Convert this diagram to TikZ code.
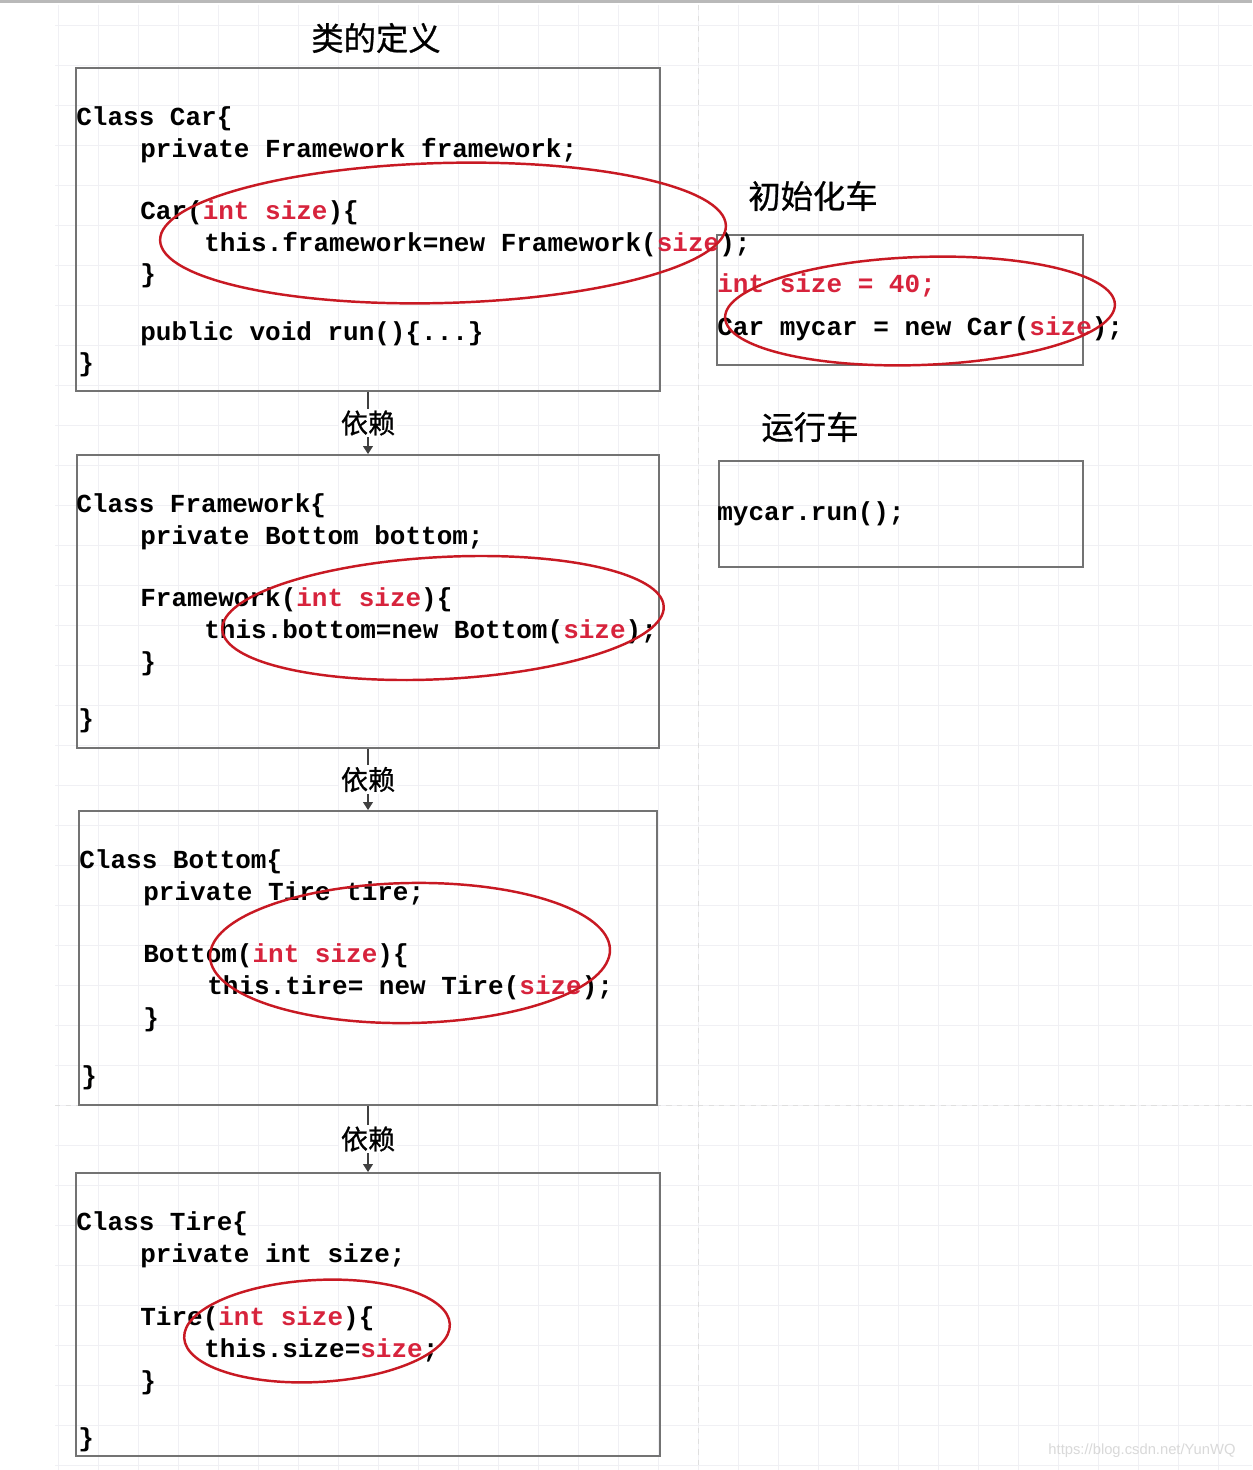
\documentclass[tikz,border=0pt]{standalone}
\usepackage{fontspec}
\setmainfont{Liberation Sans}
\setmonofont{Liberation Mono}
\newfontfamily\cjk{Noto Sans CJK SC}[FakeBold=0.8]
\usetikzlibrary{positioning,arrows.meta}
\definecolor{boxgray}{RGB}{115,115,115}
\definecolor{ringred}{RGB}{200,25,35}
\definecolor{codered}{RGB}{215,35,60}
\definecolor{gridgray}{RGB}{240,240,244}
\newcommand{\redtxt}[1]{\textcolor{codered}{#1}}
\tikzset{
  box/.style={draw=boxgray, line width=1.1pt, inner sep=0pt},
  code/.style={anchor=mid west, inner sep=0pt, yshift=-0.05cm, font=\ttfamily\bfseries\fontsize{14.8}{18}\selectfont},
  title/.style={inner sep=1pt, font=\cjk\fontsize{18.4}{22}\selectfont},
  dep/.style={draw=black!75, line width=0.8pt, -{Triangle[width=5.5pt,length=4.5pt]}},
  deplabel/.style={fill=white, inner sep=1pt, font=\cjk\fontsize{15.4}{18}\selectfont},
  ring/.style={draw=ringred, line width=1.4pt}
}

\begin{document}
\begin{tikzpicture}[x=0.02cm, y=-0.02cm]
  \useasboundingbox (0,0) rectangle (1252,1470);
  \fill[white] (0,0) rectangle (1252,1470);

  % background grid
  \foreach \gx in {58,98,...,1250}
    \draw[gridgray, line width=0.5pt] (\gx,5) -- (\gx,1470);
  \foreach \gy in {25,65,...,1465}
    \draw[gridgray, line width=0.5pt] (55,\gy) -- (1252,\gy);
  \draw[gray!25, dashed, line width=0.5pt] (698,5) -- (698,1470);
  \draw[gray!25, dashed, line width=0.5pt] (55,1105) -- (1252,1105);
  \fill[gray!55] (0,0) rectangle (1252,3);

  % titles
  \node[title] (tdef) at (376,38) {类的定义};
  \node[title] (tinit) at (813,196) {初始化车};
  \node[title] (trun) at (810,427) {运行车};

  % class boxes
  \node[box, minimum width=11.7cm, minimum height=6.46cm] (car) at (368,229.5) {};
  \node[box, minimum width=11.66cm, minimum height=5.86cm] (fw) at (368,601.5) {};
  \node[box, minimum width=11.56cm, minimum height=5.88cm] (bottom) at (368,958) {};
  \node[box, minimum width=11.7cm, minimum height=5.66cm] (tire) at (368,1314.5) {};

  % right side boxes
  \node[box, minimum width=7.32cm, minimum height=2.6cm] (init) at (900,300) {};
  \node[box, minimum width=7.28cm, minimum height=2.12cm] (run) at (901,514) {};

  % dependencies
  \draw[dep] (car.south) -- node[deplabel] (dep1) {依赖} (fw.north);
  \draw[dep] (fw.south) -- node[deplabel] (dep2) {依赖} (bottom.north);
  \draw[dep] (bottom.south) -- node[deplabel] (dep3) {依赖} (tire.north);

  % Car
  \node[code] (car1) at (76,118) {Class Car\{};
  \node[code] (car2) at (140,150) {private Framework framework;};
  \node[code] (car3) at (140,212) {Car(\redtxt{int size})\{};
  \node[code] (car4) at (204,244) {this.framework=new Framework(\redtxt{size});};
  \node[code] (car5) at (140,275) {\}};
  \node[code] (car6) at (140,333) {public void run()\{...\}};
  \node[code] (car7) at (78,364) {\}};

  % Framework
  \node[code] (fw1) at (76,505) {Class Framework\{};
  \node[code] (fw2) at (140,537) {private Bottom bottom;};
  \node[code] (fw3) at (140,599) {Framework(\redtxt{int size})\{};
  \node[code] (fw4) at (204,631) {this.bottom=new Bottom(\redtxt{size});};
  \node[code] (fw5) at (140,663) {\}};
  \node[code] (fw6) at (78,720) {\}};

  % Bottom
  \node[code] (bt1) at (79,861) {Class Bottom\{};
  \node[code] (bt2) at (143,893) {private Tire tire;};
  \node[code] (bt3) at (143,955) {Bottom(\redtxt{int size})\{};
  \node[code] (bt4) at (207,987) {this.tire= new Tire(\redtxt{size});};
  \node[code] (bt5) at (143,1019) {\}};
  \node[code] (bt6) at (81,1077) {\}};

  % Tire
  \node[code] (tr1) at (76,1223) {Class Tire\{};
  \node[code] (tr2) at (140,1255) {private int size;};
  \node[code] (tr3) at (140,1318) {Tire(\redtxt{int size})\{};
  \node[code] (tr4) at (204,1350) {this.size=\redtxt{size};};
  \node[code] (tr5) at (140,1382) {\}};
  \node[code] (tr6) at (78,1439) {\}};

  % init and run
  \node[code] (in1) at (717,285) {\redtxt{int size = 40;}};
  \node[code] (in2) at (717,328) {Car mycar = new Car(\redtxt{size});};
  \node[code] (rn1) at (717,513) {mycar.run();};

  % red rings
  \draw[ring, rotate around={1.5:(443,233)}] (443,233) ellipse [x radius=283, y radius=70];
  \draw[ring, rotate around={2:(920,311)}] (920,311) ellipse [x radius=195, y radius=54];
  \draw[ring, rotate around={3:(443,618)}] (443,618) ellipse [x radius=221, y radius=61];
  \draw[ring, rotate around={1:(410,953)}] (410,953) ellipse [x radius=200, y radius=70];
  \draw[ring, rotate around={3:(317,1331)}] (317,1331) ellipse [x radius=133, y radius=51];

  % watermark
  \node[text=gray!30, font=\fontsize{8.4}{10}\selectfont] (mark1) at (1142,1451) {https://blog.csdn.net/YunWQ};
\end{tikzpicture}
\end{document}
